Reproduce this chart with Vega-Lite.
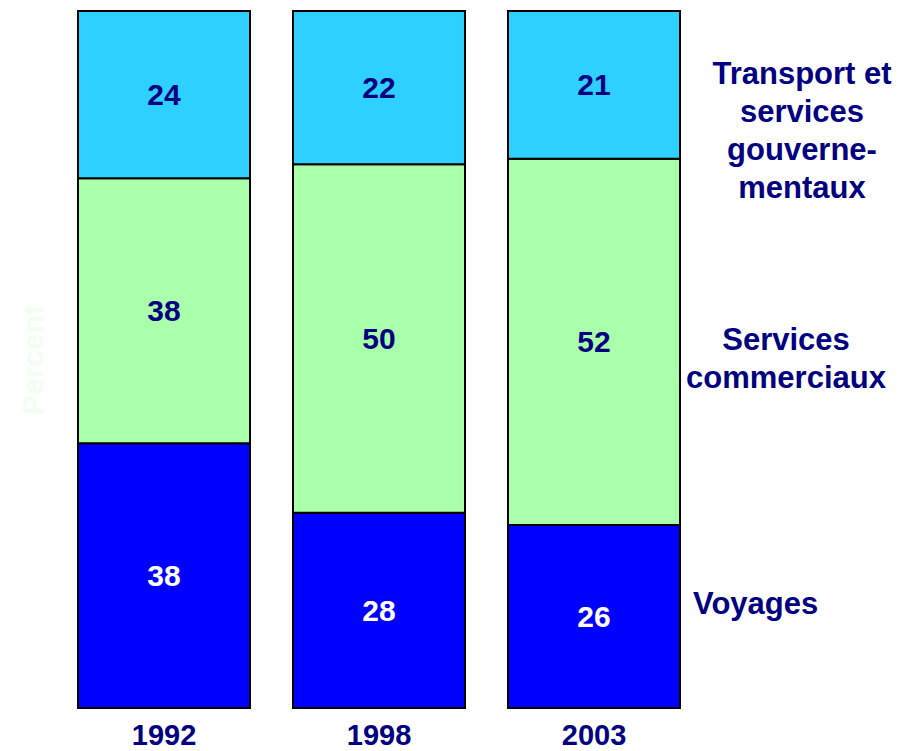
{
  "$schema": "https://vega.github.io/schema/vega-lite/v6.json",
  "autosize": {"type": "none"},
  "width": 817,
  "height": 697,
  "padding": {"left": 78, "top": 11, "right": 10, "bottom": 43},
  "background": "white",
  "config": {"view": {"stroke": null}, "font": "Liberation Sans"},
  "datasets": {
    "main": [
      {"year": "1992", "cat": "Voyages", "ord": 1, "v": 38},
      {"year": "1992", "cat": "Services commerciaux", "ord": 2, "v": 38},
      {"year": "1992", "cat": "Transport et services gouvernementaux", "ord": 3, "v": 24},
      {"year": "1998", "cat": "Voyages", "ord": 1, "v": 28},
      {"year": "1998", "cat": "Services commerciaux", "ord": 2, "v": 50},
      {"year": "1998", "cat": "Transport et services gouvernementaux", "ord": 3, "v": 22},
      {"year": "2003", "cat": "Voyages", "ord": 1, "v": 26},
      {"year": "2003", "cat": "Services commerciaux", "ord": 2, "v": 52},
      {"year": "2003", "cat": "Transport et services gouvernementaux", "ord": 3, "v": 21}
    ],
    "labels": [
      {"col": "lbl", "cat": "Transport et services gouvernementaux", "y": 0.908, "txt": ["Transport et", "services", "gouverne-", "mentaux"]},
      {"col": "lbl", "cat": "Services commerciaux", "y": 0.526, "txt": ["Services", "commerciaux"]},
      {"col": "lbl", "cat": "Voyages", "y": 0.148, "txt": ["Voyages"]}
    ]
  },
  "layer": [
    {
      "data": {"name": "main"},
      "mark": {"type": "bar", "stroke": "black", "strokeWidth": 2},
      "encoding": {
        "x": {
          "field": "year", "type": "nominal",
          "scale": {"domain": ["1992", "1998", "2003", "lbl"], "paddingInner": 0.2, "paddingOuter": 0},
          "axis": {
            "title": null, "domain": false, "ticks": false, "labelAngle": 0,
            "labelExpr": "datum.value === 'lbl' ? '' : datum.value",
            "labelFontSize": 29, "labelFontWeight": "bold", "labelColor": "#000080",
            "labelPadding": 13, "labelBaseline": "top"
          }
        },
        "y": {
          "field": "v", "type": "quantitative", "stack": "normalize",
          "scale": {"domain": [0, 1], "nice": false},
          "axis": {
            "title": "Percent", "labels": false, "ticks": false, "domain": false, "grid": false,
            "titleColor": "#f0fff0", "titleFontSize": 30, "titleFontWeight": "bold", "titlePadding": 30
          }
        },
        "order": {"field": "ord", "type": "quantitative"},
        "color": {
          "field": "cat", "type": "nominal",
          "scale": {
            "domain": ["Voyages", "Services commerciaux", "Transport et services gouvernementaux"],
            "range": ["#0000ff", "#aaffaa", "#2ed0ff"]
          },
          "legend": null
        }
      }
    },
    {
      "data": {"name": "main"},
      "mark": {"type": "text", "fontSize": 30, "fontWeight": "bold", "baseline": "middle", "align": "center", "dy": 1.5},
      "encoding": {
        "x": {"field": "year", "type": "nominal"},
        "y": {"field": "v", "type": "quantitative", "stack": "normalize", "bandPosition": 0.5},
        "order": {"field": "ord", "type": "quantitative"},
        "detail": {"field": "cat"},
        "text": {"field": "v", "type": "quantitative"},
        "color": {"condition": {"test": "datum.cat === 'Voyages'", "value": "white"}, "value": "#000080"}
      }
    },
    {
      "data": {"name": "labels"},
      "transform": [{"filter": "datum.cat === 'Transport et services gouvernementaux'"}],
      "mark": {"type": "text", "fontSize": 31, "fontWeight": "bold", "baseline": "middle", "align": "center", "lineHeight": 38, "color": "#000080", "dx": -7},
      "encoding": {
        "x": {"field": "col", "type": "nominal"},
        "y": {"field": "y", "type": "quantitative"},
        "text": {"field": "txt"}
      }
    },
    {
      "data": {"name": "labels"},
      "transform": [{"filter": "datum.cat === 'Services commerciaux'"}],
      "mark": {"type": "text", "fontSize": 31, "fontWeight": "bold", "baseline": "middle", "align": "center", "lineHeight": 38, "color": "#000080", "dx": -23},
      "encoding": {
        "x": {"field": "col", "type": "nominal"},
        "y": {"field": "y", "type": "quantitative"},
        "text": {"field": "txt"}
      }
    },
    {
      "data": {"name": "labels"},
      "transform": [{"filter": "datum.cat === 'Voyages'"}],
      "mark": {"type": "text", "fontSize": 31, "fontWeight": "bold", "baseline": "middle", "align": "left", "color": "#000080", "dx": -30},
      "encoding": {
        "x": {"field": "col", "type": "nominal", "bandPosition": 0},
        "y": {"field": "y", "type": "quantitative"},
        "text": {"field": "txt"}
      }
    }
  ]
}
